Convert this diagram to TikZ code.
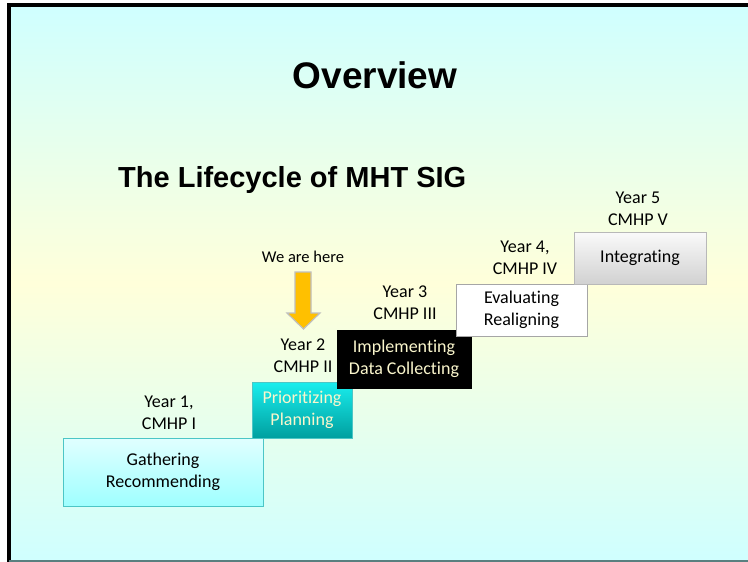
\documentclass[tikz,border=0pt]{standalone}
\usepackage{fontspec}
\setmainfont{Carlito}[Ligatures=NoCommon]
\newfontfamily\headfont{Liberation Sans}
\usetikzlibrary{positioning}
\definecolor{bgcyan}{HTML}{CFFFFF}
\definecolor{bgyellow}{HTML}{FFFFDA}
\definecolor{cream}{HTML}{FAF6CC}
\definecolor{tealedge}{HTML}{4CC6C6}
\definecolor{greyedge}{HTML}{A6A6A6}
\definecolor{amber}{HTML}{FFC000}
\tikzset{
  >=latex,
  x=1pt, y=-1pt,
}
\tikzstyle{every node}=[font=\fontsize{18}{22}\selectfont]
\tikzstyle{stage}=[draw, rectangle, align=center, inner sep=0pt, line width=0.8pt]
\tikzstyle{yearlabel}=[align=center, anchor=base, inner sep=0pt]
\tikzstyle{heading}=[anchor=base, inner sep=0pt, font=\headfont\bfseries\fontsize{37}{44}\selectfont]
\begin{document}
\begin{tikzpicture}
    % slide background
    \fill[white] (0,0) rectangle (748,562);
    \useasboundingbox (0,0) rectangle (748,562);
    \shade[top color=bgcyan, bottom color=bgcyan, middle color=bgyellow] (9,5) rectangle (748,562);
    \draw[line width=4pt] (9,562) -- (9,4.7) -- (748,4.7);
    \draw[gray!70!teal, line width=1.5pt] (9,561.2) -- (748,561.2);

    \node[heading] (title) at (375,88) {Overview};
    \node[heading, anchor=base west, font=\headfont\bfseries\fontsize{29}{34}\selectfont] (sub) at (118,187) {The Lifecycle of MHT SIG};

    % the five steps
    \node[stage, minimum width=200, minimum height=68, top color=cyan!12, bottom color=cyan!38, draw=tealedge] (gather) at (163,472) {Gathering\\Recommending};
    \node[stage, minimum width=100, minimum height=56, top color=cyan!85!teal!90, bottom color=teal!75!cyan, draw=tealedge, text=cream] (prior) at (302,410) {Prioritizing\\Planning};
    \node[stage, minimum width=134, minimum height=58, fill=black, text=cream] (impl) at (404,359) {Implementing\\Data Collecting};
    \node[stage, minimum width=131, minimum height=52, fill=white, draw=greyedge] (eval) at (521.5,310) {Evaluating\\Realigning};
    \node[stage, minimum width=132, minimum height=52, top color=black!2, bottom color=black!18, draw=greyedge!80] (integ) at (640,258) {Integrating};

    % base is the second line
    \node[yearlabel] (y1) at (169,429) {Year 1,\\CMHP I};
    \node[yearlabel] (y2) at (303,372) {Year 2\\CMHP II};
    \node[yearlabel] (y3) at (405,319) {Year 3\\CMHP III};
    \node[yearlabel] (y4) at (525,274) {Year 4,\\CMHP IV};
    \node[yearlabel] (y5) at (638,225) {Year 5\\CMHP V};

    \node[yearlabel, font=\fontsize{16.5}{20}\selectfont] (here) at (303,262) {We are here};
    \draw[fill=amber, draw=black!25, line width=1.2pt] (295,272) -- (311,272) -- (311,313) -- (320,313) -- (303.5,329) -- (287,313) -- (295,313) -- cycle;
  \end{tikzpicture}
\end{document}
